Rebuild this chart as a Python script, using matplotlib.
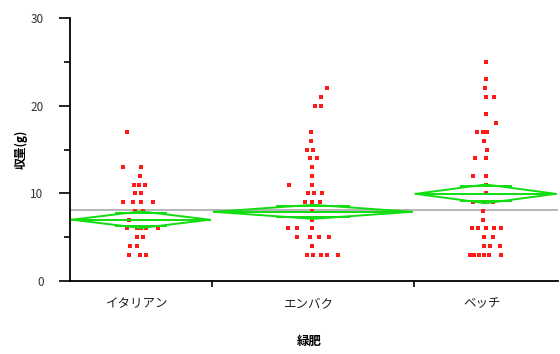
import matplotlib
matplotlib.use('Agg')
import matplotlib.pyplot as plt

plt.rcParams['font.family'] = ['Noto Sans CJK JP', 'DejaVu Sans']

groups = ['イタリアン', 'エンバク', 'ベッチ']

italian_y = [17, 13, 13, 12, 11, 11, 11, 10, 10, 9, 9, 9, 9, 8, 8, 7,
             6, 6, 6, 6, 6, 5, 5, 4, 4, 3, 3, 3]
italian_jit = [-14, -18, 0, -1, -7, -2, 4, -6, 0, -18, -8, 0, 12, -6, 2, -12,
               -14, -4, 0, 5, 17, -4, 2, -11, -4, -12, -1, 5]

oat_y = [22, 21, 20, 20, 17, 16, 15, 15, 14, 14, 13, 12, 11, 11, 10, 10, 10,
         9, 9, 9, 8, 7, 6, 6, 6, 5, 5, 5, 5, 4, 3, 3, 3, 3, 3]
oat_jit = [14, 8, 2, 8, -2, -2, -6, 0, -3, 4, -1, -1, -24, -1, -5, 1, 9,
           -8, -1, 7, -1, -1, -25, -16, -1, -16, -3, 6, 16, -1, -6, 0, 8, 14, 25]

vetch_y = [25, 23, 22, 21, 21, 19, 18, 17, 17, 17, 16, 15, 14, 14, 12, 12, 11,
           10, 9, 9, 9, 8, 7, 6, 6, 6, 6, 6, 5, 5, 4, 4, 4, 3, 3, 3, 3, 3, 3]
vetch_jit = [0, 0, -1, 0, 8, 0, 10, -9, -3, 1, -2, 1, -11, 0, -13, 0, 0,
             0, -13, -2, 7, -3, -3, -14, -8, 0, 8, 15, -2, 7, -2, 4, 14,
             -16, -12, -7, -2, 3, 15]

group_means = [7.0, 7.9, 9.95]
group_ci = [0.95, 0.8, 1.07]
grand_mean = 8.1

# x layout: group widths in axis pixels (JMP-style variable widths)
widths = [142, 202, 144]
edges = [0]
for w in widths:
    edges.append(edges[-1] + w)
centers = [(edges[i] + edges[i + 1]) / 2 for i in range(3)]

fig = plt.figure(figsize=(5.6, 3.54), dpi=100)
ax = fig.add_axes([0.125, 0.206, 0.871, 0.743])

green = '#11dd11'
all_y = [italian_y, oat_y, vetch_y]
all_jit = [italian_jit, oat_jit, vetch_jit]
for i in range(3):
    xs = [centers[i] + j for j in all_jit[i]]
    ax.plot(xs, all_y[i], 's', color='#ff1a1a', markersize=2.5,
            markeredgewidth=0, zorder=3)

ax.axhline(grand_mean, color='#b0b0b0', linewidth=1.3, zorder=2)

for i in range(3):
    x0, x1 = edges[i] + 2, edges[i + 1] - 2
    xc = centers[i]
    m, c = group_means[i], group_ci[i]
    ax.plot([x0, xc, x1, xc, x0], [m, m + c, m, m - c, m],
            color=green, linewidth=1.4, zorder=4)
    ax.plot([x0, x1], [m, m], color=green, linewidth=1.4, zorder=4)
    ov = c * 0.8
    q = (x1 - x0) * 0.18
    for s in (1, -1):
        ax.plot([xc - q, xc + q], [m + s * ov, m + s * ov],
                color=green, linewidth=1.4, zorder=4)

ax.set_xlim(edges[0], edges[-1])
ax.set_ylim(0, 30)
ax.set_yticks([0, 10, 20, 30])
ax.set_yticks([5, 15, 25], minor=True)
ax.set_xticks(edges[1:3])
ax.set_xticklabels([])
ax.tick_params(axis='y', which='major', length=8, width=1.2, pad=11,
               labelsize=8.5, labelcolor='#333333')
ax.tick_params(axis='y', which='minor', length=4, width=1.2)
ax.tick_params(axis='x', length=4, width=1.2)

for i in range(3):
    ax.text(centers[i] - 4, -1.8, groups[i], ha='center', va='top',
            fontsize=9, color='#222222')

for side in ['top', 'right']:
    ax.spines[side].set_visible(False)
for side in ['left', 'bottom']:
    ax.spines[side].set_linewidth(1.3)

fig.text(0.553, 0.035, '緑肥', ha='center', va='center', fontsize=9,
         fontweight='bold')
fig.text(0.038, 0.578, '収量(g)', ha='center', va='center', rotation=90,
         fontsize=8.5, fontweight='bold')

fig.savefig('out.png', dpi=100, facecolor='white')
